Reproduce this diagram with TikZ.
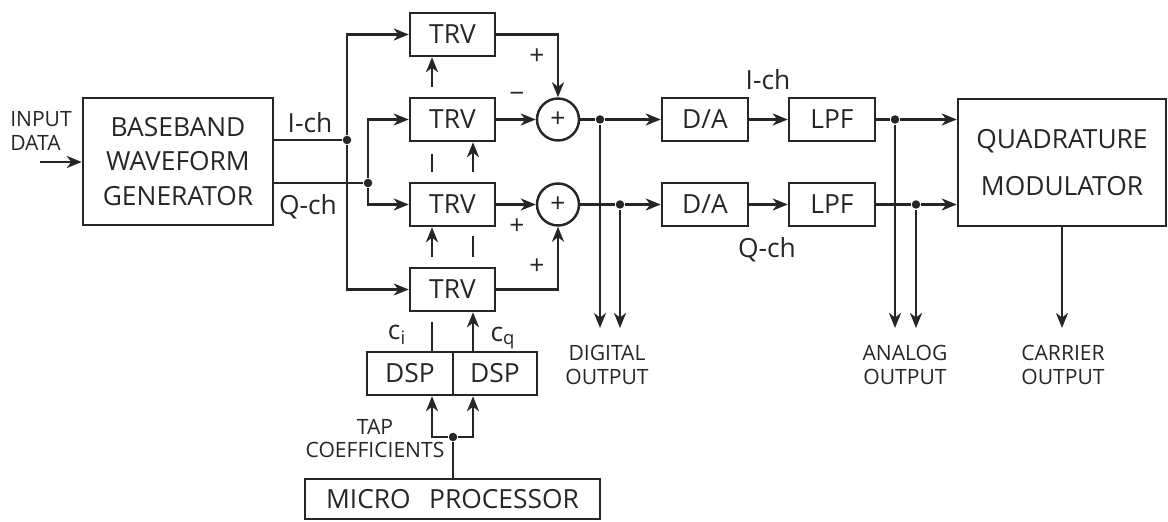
\documentclass[tikz,border=0pt]{standalone}
\usepackage{fontspec}
\setmainfont{Open Sans}
\usepackage{tikz}
\usetikzlibrary{arrows.meta,positioning,calc}

\newcommand\blkfont{\fontsize{15}{19.6}\selectfont}
\newcommand\lblfont{\fontsize{12}{13.6}\selectfont}

\begin{document}
\begin{tikzpicture}[
    color=black!85, line width=1.4pt,
    blk/.style={draw, minimum width=1.7cm, minimum height=0.86cm, align=center, font=\blkfont, inner sep=0pt},
    sum/.style={draw, circle, minimum size=0.84cm, inner sep=0pt, font=\blkfont},
    dot/.style={circle, fill, inner sep=0pt, minimum size=1.7mm},
    arr/.style={-{Stealth[length=3mm,width=2.4mm,inset=0.9mm]}},
    lbl/.style={font=\lblfont, align=center},
    chl/.style={font=\blkfont},
    sgn/.style={font=\blkfont, inner sep=0pt}
]
\useasboundingbox (0,0) rectangle (23.36,10.42);

% input and baseband generator
\node[lbl, align=left] (inp) at (0.82,7.8) {INPUT\\DATA};
\coordinate (inA) at (0.8,7.18);
\node[blk, minimum width=3.8cm, minimum height=2.54cm] (bb) at (3.56,7.19) {BASEBAND\\WAVEFORM\\GENERATOR};
\draw[arr] (inA) -- (inA -| bb.west);

\node[dot] (jI) at (6.94,7.62) {};
\node[dot] (jQ) at (7.36,6.76) {};
\draw (bb.east |- jI) -- (jI);
\draw (bb.east |- jQ) -- (jQ);
\node[chl] (lI) at (6.2,7.96) {I-ch};
\node[chl] (lQ) at (6.16,6.28) {Q-ch};

% transversal filters
\node[blk] (t1) at (9.05,9.73) {TRV};
\node[blk] (t2) at (9.05,8.03) {TRV};
\node[blk] (t3) at (9.05,6.33) {TRV};
\node[blk] (t4) at (9.05,4.63) {TRV};
\draw[arr] (jI) |- (t1.west);
\draw[arr] (jI) |- (t4.west);
\draw[arr] (jQ) |- (t2.west);
\draw[arr] (jQ) |- (t3.west);

% adders
\node[sum] (s1) at (11.16,8.03) {+};
\node[sum] (s2) at (11.16,6.33) {+};
\draw[arr] (t2) -- (s1);
\draw[arr] (t3) -- (s2);
\draw[arr] (t1.east) -| (s1.north);
\draw[arr] (t4.east) -| (s2.south);
\node[sgn] (p1) at (10.74,9.28) {+};
\node[sgn] (m1) at (10.34,8.48) {\textminus};
\node[sgn] (p2) at (10.34,5.88) {+};
\node[sgn] (p3) at (10.74,5.08) {+};

% tap coefficient lines
\coordinate (cI) at (8.64,1.68);
\coordinate (cQ) at (9.46,1.68);
\draw[arr] ($(cI |- t2.north)+(0,0.2)$) -- (cI |- t1.south);
\draw ($(cI |- t2.south)+(0,-0.24)$) -- ($(cI |- t3.north)+(0,0.2)$);
\draw[arr] ($(cQ |- t3.north)+(0,0.2)$) -- (cQ |- t2.south);
\draw[arr] ($(cI |- t4.north)+(0,0.2)$) -- (cI |- t3.south);
\draw ($(cQ |- t3.south)+(0,-0.18)$) -- ($(cQ |- t4.north)+(0,0.2)$);

% DSP and micro processor
\node[blk, minimum width=1.72cm] (dsp1) at (8.2,2.95) {DSP};
\node[blk, minimum width=1.68cm, right=0pt of dsp1, xshift=-1.4pt] (dsp2) {DSP};
\draw ($(cI |- t4.south)+(0,-0.2)$) -- (cI |- dsp1.north);
\draw[arr] (cQ |- dsp2.north) -- (cQ |- t4.south);
\node[chl] (ci) at (7.94,3.72) {c\textsubscript{i}};
\node[chl] (cq) at (10.06,3.66) {c\textsubscript{q}};

\node[dot] (jm) at (9.06,1.68) {};
\draw[arr] (jm) -- (cI) -- (cI |- dsp1.south);
\draw[arr] (jm) -- (cQ) -- (cQ |- dsp2.south);
\node[blk, minimum width=5.9cm, minimum height=0.8cm] (mp) at (9.05,0.44) {MICRO\hspace{0.7em}PROCESSOR};
\draw (mp.north -| jm) -- (jm);
\node[lbl] (tap) at (7.5,1.65) {TAP\\COEFFICIENTS};

% D/A, LPF and modulator
\node[dot] (d1) at (12.0,8.03) {};
\node[dot] (d2) at (12.4,6.33) {};
\node[blk, minimum width=1.72cm] (da1) at (14.1,8.03) {D/A};
\node[blk, minimum width=1.72cm] (da2) at (14.1,6.33) {D/A};
\node[blk, minimum width=1.72cm] (lp1) at (16.64,8.03) {LPF};
\node[blk, minimum width=1.72cm] (lp2) at (16.64,6.33) {LPF};
\node[chl] (lI2) at (15.36,8.82) {I-ch};
\node[chl] (lQ2) at (15.34,5.42) {Q-ch};
\draw (s1) -- (d1);
\draw (s2) -- (d2);
\draw[arr] (d1) -- (da1);
\draw[arr] (d2) -- (da2);
\draw[arr] (da1) -- (lp1);
\draw[arr] (da2) -- (lp2);

\node[dot] (a1) at (17.9,8.03) {};
\node[dot] (a2) at (18.32,6.33) {};
\node[blk, minimum width=4.16cm, minimum height=2.54cm, font=\fontsize{15}{27}\selectfont] (mod) at (21.24,7.17) {QUADRATURE\\MODULATOR};
\draw (lp1) -- (a1);
\draw (lp2) -- (a2);
\draw[arr] (a1) -- (a1 -| mod.west);
\draw[arr] (a2) -- (a2 -| mod.west);

% outputs
\coordinate (oy) at (0,3.86);
\draw[arr] (d1) -- (d1 |- oy);
\draw[arr] (d2) -- (d2 |- oy);
\draw[arr] (a1) -- (a1 |- oy);
\draw[arr] (a2) -- (a2 |- oy);
\draw[arr] (mod.south) -- (mod.south |- oy);
\node[lbl] (dout) at (12.14,3.12) {DIGITAL\\OUTPUT};
\node[lbl] (aout) at (18.1,3.12) {ANALOG\\OUTPUT};
\node[lbl] (cout) at (21.26,3.12) {CARRIER\\OUTPUT};
\end{tikzpicture}
\end{document}
